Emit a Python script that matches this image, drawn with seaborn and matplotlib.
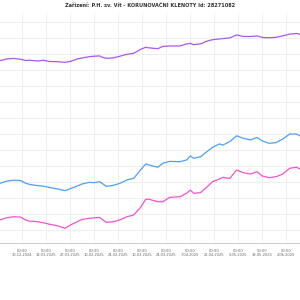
import pandas as pd
import matplotlib
matplotlib.use("Agg")
import matplotlib.pyplot as plt
import matplotlib.ticker as mticker
import matplotlib.dates as mdates
import seaborn as sns

dates = ["2024-12-17", "2024-12-21", "2024-12-25", "2024-12-29", "2025-01-01",
         "2025-01-03", "2025-01-08", "2025-01-11", "2025-01-15", "2025-01-19",
         "2025-01-24", "2025-01-27", "2025-01-31", "2025-02-03", "2025-02-07",
         "2025-02-10", "2025-02-13", "2025-02-15", "2025-02-17", "2025-02-21",
         "2025-02-25", "2025-03-01", "2025-03-05", "2025-03-09", "2025-03-12",
         "2025-03-14", "2025-03-19", "2025-03-22", "2025-03-26", "2025-04-01",
         "2025-04-05", "2025-04-07", "2025-04-09", "2025-04-13", "2025-04-17",
         "2025-04-20", "2025-04-24", "2025-04-26", "2025-04-30", "2025-05-04",
         "2025-05-08", "2025-05-12", "2025-05-16", "2025-05-19", "2025-05-23",
         "2025-05-27", "2025-05-31", "2025-06-04", "2025-06-08", "2025-06-10"]

purple = [105.8, 106.9, 107.2, 106.7, 105.9, 106.1, 105.6, 106.1, 105.3, 105.2,
          104.8, 105.3, 106.9, 107.5, 108.3, 108.6, 108.8, 107.8, 107.3, 107.5,
          108.6, 109.8, 110.4, 112.9, 114.2, 113.8, 113.3, 114.7, 115.0, 115.0,
          116.3, 116.6, 115.8, 116.3, 118.1, 118.9, 119.4, 119.6, 120.0, 121.9,
          120.9, 120.9, 121.3, 120.3, 120.1, 120.4, 121.3, 122.4, 122.8, 122.3]

blue = [29.2, 30.6, 31.1, 30.9, 29.2, 28.6, 27.7, 27.5, 26.6, 25.8,
        24.6, 25.8, 27.5, 28.8, 29.8, 29.6, 30.2, 28.8, 27.3, 27.9,
        29.2, 31.3, 32.3, 37.5, 41.3, 40.6, 39.2, 41.7, 42.9, 42.7,
        43.8, 46.3, 44.8, 45.8, 49.2, 51.7, 53.8, 53.1, 55.2, 58.9,
        57.3, 56.3, 57.8, 55.6, 54.2, 54.6, 56.9, 60.0, 60.0, 58.8]

pink = [6.3, 7.7, 8.3, 8.1, 6.3, 5.6, 5.2, 4.6, 3.6, 2.8,
        1.1, 3.1, 5.2, 6.7, 7.3, 7.6, 7.9, 6.3, 4.8, 5.2,
        6.3, 8.3, 9.4, 14.2, 19.2, 19.2, 17.7, 17.7, 20.4, 20.8,
        23.1, 25.0, 22.9, 23.4, 27.2, 30.2, 31.9, 32.9, 32.2, 37.5,
        35.8, 35.0, 36.4, 33.8, 32.7, 33.3, 35.0, 38.6, 39.2, 38.1]

title = "Zařízení: P.H. sv. Vít - KORUNOVAČNÍ KLENOTY Id: 28271082"

df = pd.DataFrame({"datum": pd.to_datetime(dates), "a": purple, "b": blue, "c": pink})

sns.set_style("whitegrid")
plt.rcParams["font.family"] = ["DejaVu Sans"]

fig = plt.figure(figsize=(3, 3), dpi=100)
ax = fig.add_axes([0, 0.19, 1, 0.7667])

sns.lineplot(data=df, x="datum", y="a", color="#a957ef", linewidth=0.9, ax=ax)
sns.lineplot(data=df, x="datum", y="b", color="#4f9ff3", linewidth=0.9, ax=ax)
sns.lineplot(data=df, x="datum", y="c", color="#ee55cc", linewidth=0.9, ax=ax)

ax.set_xlim(df["datum"].iloc[0], df["datum"].iloc[-1])
ax.set_ylim(-8.1, 135.6)
ax.yaxis.set_major_locator(mticker.MultipleLocator(10))
ax.set_yticklabels([])
ax.tick_params(axis="y", length=0)

major = pd.date_range("2024-12-16", "2025-06-16", freq="14D")
ax.xaxis.set_major_locator(mticker.FixedLocator(mdates.date2num(major)))
ax.xaxis.set_minor_locator(mdates.DayLocator())
ax.xaxis.set_major_formatter(mticker.FuncFormatter(
    lambda v, p: (lambda d: f"00:00\n{d.day}.{d.month:02d}.{d.year}")(mdates.num2date(v))))
ax.tick_params(axis="x", which="major", length=3, width=0.5, color="#bbbbbb",
               labelsize=2.6, labelcolor="#666666", pad=1)
ax.tick_params(axis="x", which="minor", length=1.2, width=0.4, color="#cccccc")

ax.grid(True, color="#ececec", linewidth=0.6)
ax.grid(False, which="minor")
for s in ["left", "right", "top"]:
    ax.spines[s].set_visible(False)
ax.spines["bottom"].set_color("#cccccc")
ax.spines["bottom"].set_linewidth(0.7)
ax.set_xlabel("")
ax.set_ylabel("")

fig.text(0.5, 0.983, title, ha="center", va="center", fontsize=3.6,
         fontweight="bold", color="#333333")

fig.savefig("out.png", dpi=100)
